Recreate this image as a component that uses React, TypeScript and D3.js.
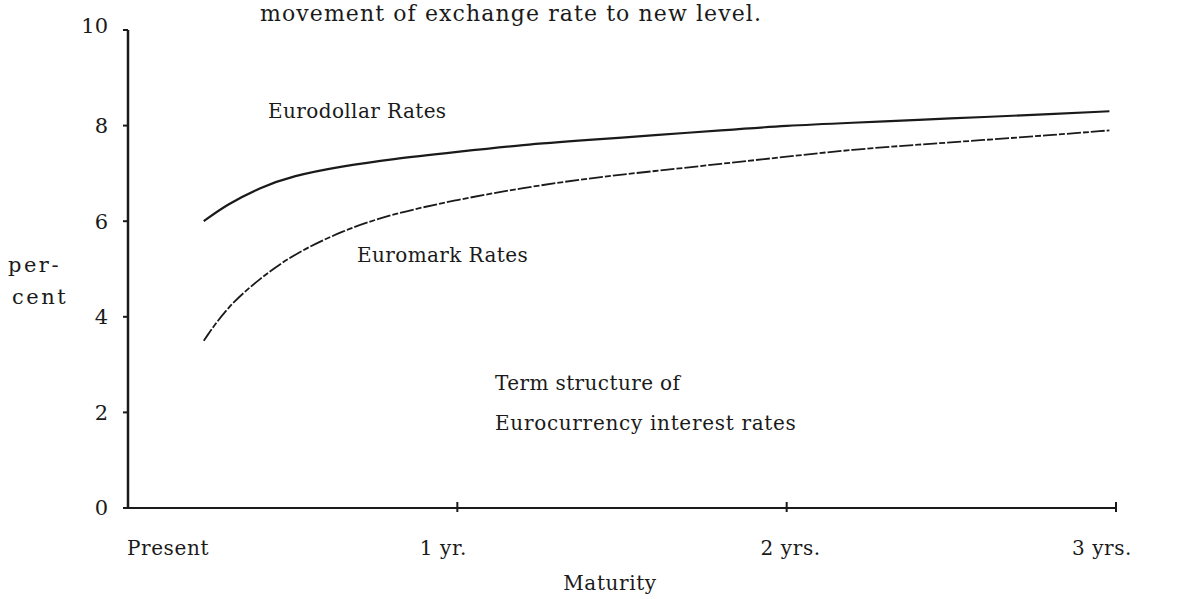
import { scaleLinear, line, curveBasis } from 'd3'

const width = 1190,
      height = 599

// maturity in years, rate in percent
const maturity = [0.23, 0.3, 0.4, 0.5, 0.65, 0.8, 1.0, 1.2, 1.4, 1.6, 1.8, 2.0, 2.2, 2.4, 2.6, 2.8, 2.98]
const eurodollar = [6.0, 6.35, 6.7, 6.95, 7.15, 7.3, 7.45, 7.6, 7.7, 7.8, 7.9, 8.0, 8.06, 8.12, 8.18, 8.24, 8.3]
const euromark = [3.5, 4.2, 4.8, 5.3, 5.8, 6.15, 6.45, 6.7, 6.9, 7.05, 7.2, 7.35, 7.5, 7.6, 7.7, 7.8, 7.9]

const yTicks = [0, 2, 4, 6, 8, 10]
const xTicks = [0, 1, 2, 3]
const xTickLabels = ['Present', '1 yr.', '2 yrs.', '3 yrs.']

const x = scaleLinear().domain([0, 3]).range([128, 1116])
const y = scaleLinear().domain([0, 10]).range([508, 30])

const font = "'DejaVu Serif', serif"
const ink = '#1a1a1a'

const path = line<number>()
  .x((d, i) => x(maturity[i]))
  .y(d => y(d))
  .curve(curveBasis)

export default function App() {
  return (
    <svg width={width} height={height} style={{ position: 'absolute', left: 0, top: 0, background: '#fff' }}
         fontFamily={font} fill={ink}>

      <text x={511} y={21} fontSize={22} letterSpacing={1.1} textAnchor='middle'>movement of exchange rate to new level.</text>

      {/* axes */}
      <line x1={x(0)} y1={y(10)} x2={x(0)} y2={y(0)} stroke={ink} strokeWidth={2.5} />
      <line x1={x(0)} y1={y(0)} x2={x(3)} y2={y(0)} stroke={ink} strokeWidth={2} />

      <g className='y-ticks'>
        { yTicks.map(t =>
          <g key={t}>
            <line x1={x(0) - 5} x2={x(0)} y1={y(t)} y2={y(t)} stroke={ink} strokeWidth={2} />
            <text x={108} y={t == 10 ? y(t) - 4 : y(t)} dy='0.35em' fontSize={21} textAnchor='end'>{t}</text>
          </g>
        )}
      </g>

      <g className='x-ticks'>
        { xTicks.map((t, i) =>
          <g key={t}>
            { i > 0 && <line x1={x(t)} x2={x(t)} y1={y(0) - 6} y2={y(0) + 4} stroke={ink} strokeWidth={2} /> }
            <text x={i == 0 ? x(t) + 40 : (i == 2 ? x(t) + 4 : x(t) - 14)} y={y(0) + 47} fontSize={20}
                  letterSpacing={0.6} textAnchor='middle'>{xTickLabels[i]}</text>
          </g>
        )}
      </g>

      <text x={610} y={590} fontSize={20} letterSpacing={0.6} textAnchor='middle'>Maturity</text>
      <text x={8} y={272} fontSize={21} letterSpacing={2.5}>per-</text>
      <text x={12} y={304} fontSize={21} letterSpacing={2.5}>cent</text>

      {/* curves */}
      <path d={path(eurodollar) ?? ''} fill='none' stroke={ink} strokeWidth={2.2} />
      <path d={path(euromark) ?? ''} fill='none' stroke={ink} strokeWidth={1.8} strokeDasharray='14 2 6 2' />

      <text x={268} y={118} fontSize={20} letterSpacing={0.4}>Eurodollar Rates</text>
      <text x={357} y={262} fontSize={20} letterSpacing={0.4}>Euromark Rates</text>
      <text x={495} y={390} fontSize={20} letterSpacing={0.4}>Term structure of</text>
      <text x={495} y={430} fontSize={20} letterSpacing={0.7}>Eurocurrency interest rates</text>
    </svg>
  )
}
